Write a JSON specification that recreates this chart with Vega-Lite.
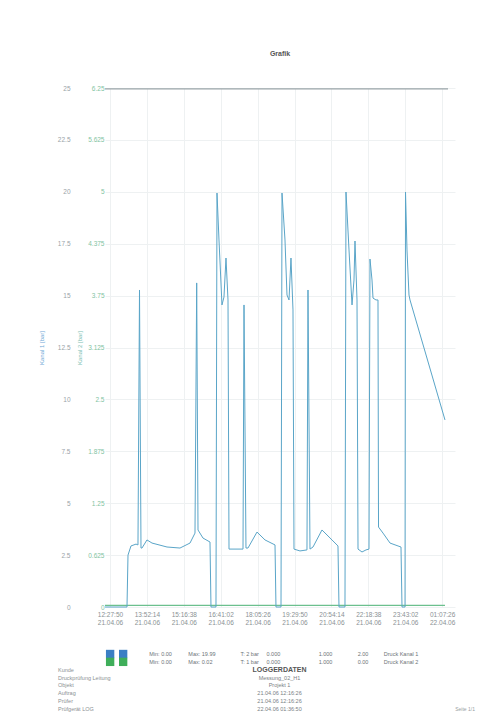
{
  "$schema": "https://vega.github.io/schema/vega-lite/v6.json",
  "width": 350,
  "height": 519,
  "autosize": {"type": "none"},
  "padding": {"left": 105, "top": 88, "right": 26, "bottom": 108},
  "background": "white",
  "config": {"font": "Liberation Sans", "view": {"stroke": null}},
  "title": {"text": "Grafik", "fontSize": 7, "fontWeight": "bold", "color": "#555555", "offset": 28},
  "datasets": {
    "kanal1": [
      {"zeit_min": -11.4, "druck_bar": 0}, {"zeit_min": 38.9, "druck_bar": 0}, {"zeit_min": 41.2, "druck_bar": 2.5},
      {"zeit_min": 48.0, "druck_bar": 2.94}, {"zeit_min": 59.5, "druck_bar": 3.03}, {"zeit_min": 64.0, "druck_bar": 2.99},
      {"zeit_min": 67.5, "druck_bar": 15.27}, {"zeit_min": 70.9, "druck_bar": 2.84}, {"zeit_min": 73.2, "druck_bar": 2.84},
      {"zeit_min": 84.6, "druck_bar": 3.23}, {"zeit_min": 96.1, "druck_bar": 3.08}, {"zeit_min": 130.4, "druck_bar": 2.89},
      {"zeit_min": 160.1, "druck_bar": 2.84}, {"zeit_min": 183.0, "druck_bar": 3.08}, {"zeit_min": 194.4, "druck_bar": 3.56},
      {"zeit_min": 198.3, "druck_bar": 15.61}, {"zeit_min": 201.3, "druck_bar": 3.71}, {"zeit_min": 212.7, "druck_bar": 3.32},
      {"zeit_min": 228.7, "druck_bar": 3.13}, {"zeit_min": 231.0, "druck_bar": 0}, {"zeit_min": 242.4, "druck_bar": 0},
      {"zeit_min": 244.7, "druck_bar": 19.94}, {"zeit_min": 249.3, "druck_bar": 17.68}, {"zeit_min": 256.1, "druck_bar": 14.55},
      {"zeit_min": 260.7, "druck_bar": 14.93}, {"zeit_min": 265.3, "druck_bar": 16.81}, {"zeit_min": 269.9, "druck_bar": 14.79},
      {"zeit_min": 272.2, "druck_bar": 2.79}, {"zeit_min": 285.9, "druck_bar": 2.79}, {"zeit_min": 304.2, "druck_bar": 2.79},
      {"zeit_min": 306.5, "druck_bar": 14.55}, {"zeit_min": 311.0, "druck_bar": 2.84}, {"zeit_min": 315.6, "druck_bar": 2.84},
      {"zeit_min": 336.2, "druck_bar": 3.61}, {"zeit_min": 354.5, "druck_bar": 3.23}, {"zeit_min": 377.4, "druck_bar": 2.99},
      {"zeit_min": 379.6, "druck_bar": 0}, {"zeit_min": 391.1, "druck_bar": 0}, {"zeit_min": 393.4, "druck_bar": 19.94},
      {"zeit_min": 400.2, "druck_bar": 17.68}, {"zeit_min": 404.8, "druck_bar": 15.03}, {"zeit_min": 409.4, "druck_bar": 14.79},
      {"zeit_min": 413.9, "druck_bar": 16.81}, {"zeit_min": 418.5, "druck_bar": 14.31}, {"zeit_min": 420.8, "druck_bar": 2.79},
      {"zeit_min": 434.5, "druck_bar": 2.7}, {"zeit_min": 450.5, "druck_bar": 2.75}, {"zeit_min": 452.8, "druck_bar": 15.27},
      {"zeit_min": 457.4, "druck_bar": 2.79}, {"zeit_min": 464.3, "druck_bar": 2.89}, {"zeit_min": 484.8, "druck_bar": 3.71},
      {"zeit_min": 507.7, "druck_bar": 3.23}, {"zeit_min": 521.4, "druck_bar": 2.94}, {"zeit_min": 523.7, "druck_bar": 0},
      {"zeit_min": 537.4, "druck_bar": 0}, {"zeit_min": 539.7, "druck_bar": 19.99}, {"zeit_min": 546.6, "druck_bar": 17.2},
      {"zeit_min": 553.5, "druck_bar": 14.55}, {"zeit_min": 558.0, "druck_bar": 15.75}, {"zeit_min": 560.3, "druck_bar": 17.63},
      {"zeit_min": 564.9, "druck_bar": 14.79}, {"zeit_min": 567.2, "druck_bar": 2.79}, {"zeit_min": 576.3, "druck_bar": 2.65},
      {"zeit_min": 585.5, "druck_bar": 2.75}, {"zeit_min": 592.3, "druck_bar": 2.79}, {"zeit_min": 594.6, "druck_bar": 16.76},
      {"zeit_min": 599.2, "druck_bar": 15.75}, {"zeit_min": 601.5, "druck_bar": 14.88}, {"zeit_min": 608.3, "druck_bar": 14.79},
      {"zeit_min": 612.9, "druck_bar": 14.79}, {"zeit_min": 614.1, "druck_bar": 3.85}, {"zeit_min": 624.4, "druck_bar": 3.56},
      {"zeit_min": 640.4, "druck_bar": 3.08}, {"zeit_min": 658.7, "druck_bar": 2.94}, {"zeit_min": 665.5, "druck_bar": 2.89},
      {"zeit_min": 667.8, "druck_bar": 0}, {"zeit_min": 674.7, "druck_bar": 0}, {"zeit_min": 675.8, "druck_bar": 19.99},
      {"zeit_min": 679.2, "druck_bar": 17.2}, {"zeit_min": 683.8, "druck_bar": 15.03}, {"zeit_min": 686.1, "druck_bar": 14.79},
      {"zeit_min": 766.1, "druck_bar": 9.01}
    ],
    "kanal2": [
      {"zeit_min": -11.4, "wert": 0.02, "reihe": "Kanal 2"},
      {"zeit_min": 766.1, "wert": 0.02, "reihe": "Kanal 2"},
      {"zeit_min": -11.4, "wert": 6.24, "reihe": "Referenz"},
      {"zeit_min": 773.0, "wert": 6.24, "reihe": "Referenz"}
    ],
    "fusssymbole": [
      {"spalte": "k4", "zeile": "L1", "reihe": "Kanal 1"},
      {"spalte": "k5", "zeile": "L1", "reihe": "Kanal 1"},
      {"spalte": "k4", "zeile": "L2", "reihe": "Kanal 2"},
      {"spalte": "k5", "zeile": "L2", "reihe": "Kanal 2"}
    ],
    "fusszeile": [
      {"spalte": "k7", "zeile": "L1", "text": "Min: 0.00", "art": "legende"},
      {"spalte": "k10", "zeile": "L1", "text": "Max: 19.99", "art": "legende"},
      {"spalte": "k7", "zeile": "L2", "text": "Min: 0.00", "art": "legende"},
      {"spalte": "k10", "zeile": "L2", "text": "Max: 0.02", "art": "legende"},
      {"spalte": "k14", "zeile": "L1", "text": "T: 2 bar", "art": "legende"},
      {"spalte": "k16", "zeile": "L1", "text": "0.000", "art": "legende"},
      {"spalte": "k14", "zeile": "L2", "text": "T: 1 bar", "art": "legende"},
      {"spalte": "k16", "zeile": "L2", "text": "0.000", "art": "legende"},
      {"spalte": "k20", "zeile": "L1", "text": "1.000", "art": "legende"},
      {"spalte": "k20", "zeile": "L2", "text": "1.000", "art": "legende"},
      {"spalte": "k23", "zeile": "L1", "text": "2.00", "art": "legende"},
      {"spalte": "k25", "zeile": "L1", "text": "Druck Kanal 1", "art": "legende"},
      {"spalte": "k23", "zeile": "L2", "text": "0.00", "art": "legende"},
      {"spalte": "k25", "zeile": "L2", "text": "Druck Kanal 2", "art": "legende"},
      {"spalte": "k0", "zeile": "z1", "text": "Kunde", "art": "links"},
      {"spalte": "k0", "zeile": "z2", "text": "Druckprüfung Leitung", "art": "links"},
      {"spalte": "k0", "zeile": "z3", "text": "Objekt", "art": "links"},
      {"spalte": "k0", "zeile": "z4", "text": "Auftrag", "art": "links"},
      {"spalte": "k0", "zeile": "z5", "text": "Prüfer", "art": "links"},
      {"spalte": "k0", "zeile": "z6", "text": "Prüfgerät LOG", "art": "links"},
      {"spalte": "k17", "zeile": "z1", "text": "LOGGERDATEN", "art": "kopf"},
      {"spalte": "k17", "zeile": "z2", "text": "Messung_02_H1", "art": "mitte"},
      {"spalte": "k17", "zeile": "z3", "text": "Projekt 1", "art": "mitte"},
      {"spalte": "k17", "zeile": "z4", "text": "21.04.06 12:16:26", "art": "mitte"},
      {"spalte": "k17", "zeile": "z5", "text": "21.04.06 12:16:26", "art": "mitte"},
      {"spalte": "k17", "zeile": "z6", "text": "22.04.06 01:36:50", "art": "mitte"},
      {"spalte": "k32", "zeile": "z6", "text": "Seite 1/1", "art": "rechts"}
    ]
  },
  "layer": [
    {
      "data": {"name": "kanal2"},
      "mark": {"type": "line", "strokeWidth": 1.1},
      "encoding": {
        "x": {"field": "zeit_min", "type": "quantitative", "scale": {"domain": [-11.4, 789], "nice": false, "zero": false}, "axis": null},
        "y": {
          "field": "wert", "type": "quantitative",
          "scale": {"domain": [0, 6.25], "nice": false},
          "axis": {
            "orient": "left", "offset": 0,
            "values": [0, 0.625, 1.25, 1.875, 2.5, 3.125, 3.75, 4.375, 5, 5.625, 6.25],
            "labelExpr": "'' + datum.value", "labelFontSize": 6.5, "labelColor": "#7fc3a2",
            "ticks": false, "domain": false, "grid": true, "gridColor": "#eef1f2",
            "labelPadding": 1, "title": "Kanal 2 [bar]", "titleColor": "#7cc0b4",
            "titleFontSize": 6, "titleFontWeight": "normal", "titlePadding": 5
          }
        },
        "color": {"field": "reihe", "type": "nominal", "scale": {"domain": ["Kanal 2", "Referenz"], "range": ["#6cc08e", "#9aa4a8"]}, "legend": null}
      }
    },
    {
      "data": {"name": "kanal1"},
      "mark": {"type": "line", "color": "#5aa5c8", "strokeWidth": 1},
      "encoding": {
        "x": {
          "field": "zeit_min", "type": "quantitative",
          "scale": {"domain": [-11.4, 789], "nice": false, "zero": false},
          "axis": {
            "values": [0, 84.4, 168.8, 253.2, 337.6, 422, 506.4, 590.8, 675.2, 759.6],
            "labelExpr": "[timeFormat(datetime(2006, 3, 21, 12, 27, 50 + round(datum.value * 60)), '%H:%M:%S'), timeFormat(datetime(2006, 3, 21, 12, 27, 50 + round(datum.value * 60)), '%d.%m.%y')]",
            "title": null, "labelFontSize": 6.5, "labelColor": "#8a9194",
            "ticks": false, "domain": false, "grid": true, "gridColor": "#eef1f2",
            "labelPadding": 4, "labelLineHeight": 8
          }
        },
        "y": {
          "field": "druck_bar", "type": "quantitative",
          "scale": {"domain": [0, 25], "nice": false},
          "axis": {
            "orient": "left", "offset": 33,
            "values": [0, 2.5, 5, 7.5, 10, 12.5, 15, 17.5, 20, 22.5, 25],
            "labelExpr": "'' + datum.value", "labelFontSize": 6.5, "labelColor": "#9aa3a8",
            "ticks": false, "domain": false, "grid": false,
            "labelPadding": 2, "title": "Kanal 1 [bar]", "titleColor": "#6fa9d6",
            "titleFontSize": 6, "titleFontWeight": "normal", "titlePadding": 13
          }
        }
      }
    },
    {
      "layer": [
        {
          "data": {"name": "fusssymbole"},
          "mark": {"type": "point", "shape": "square", "filled": true, "size": 70, "opacity": 1},
          "encoding": {
            "x": {"field": "spalte", "type": "ordinal", "scale": {"type": "point", "domain": ["k0","k1","k2","k3","k4","k5","k6","k7","k8","k9","k10","k11","k12","k13","k14","k15","k16","k17","k18","k19","k20","k21","k22","k23","k24","k25","k26","k27","k28","k29","k30","k31","k32"], "range": [-47, 370], "padding": 0}, "axis": null},
            "y": {"field": "zeile", "type": "ordinal", "scale": {"type": "point", "domain": ["L1","L2","z1","z2","z3","z4","z5","z6"], "range": [566, 621], "padding": 0}, "axis": null},
            "color": {"field": "reihe", "type": "nominal", "scale": {"domain": ["Kanal 1", "Kanal 2"], "range": ["#3b7fc4", "#3fae5a"]}, "legend": null}
          }
        },
        {
          "data": {"name": "fusszeile"},
          "transform": [{"filter": "datum.art == 'legende'"}],
          "mark": {"type": "text", "align": "left", "baseline": "middle", "fontSize": 5.5, "color": "#6d7377"},
          "encoding": {
            "x": {"field": "spalte", "type": "ordinal", "scale": {"type": "point", "domain": ["k0","k1","k2","k3","k4","k5","k6","k7","k8","k9","k10","k11","k12","k13","k14","k15","k16","k17","k18","k19","k20","k21","k22","k23","k24","k25","k26","k27","k28","k29","k30","k31","k32"], "range": [-47, 370], "padding": 0}, "axis": null},
            "y": {"field": "zeile", "type": "ordinal", "scale": {"type": "point", "domain": ["L1","L2","z1","z2","z3","z4","z5","z6"], "range": [566, 621], "padding": 0}, "axis": null},
            "text": {"field": "text"}
          }
        },
        {
          "data": {"name": "fusszeile"},
          "transform": [{"filter": "datum.art == 'links'"}],
          "mark": {"type": "text", "align": "left", "baseline": "middle", "fontSize": 5.5, "color": "#8c9194"},
          "encoding": {
            "x": {"field": "spalte", "type": "ordinal", "scale": {"type": "point", "domain": ["k0","k1","k2","k3","k4","k5","k6","k7","k8","k9","k10","k11","k12","k13","k14","k15","k16","k17","k18","k19","k20","k21","k22","k23","k24","k25","k26","k27","k28","k29","k30","k31","k32"], "range": [-47, 370], "padding": 0}, "axis": null},
            "y": {"field": "zeile", "type": "ordinal", "scale": {"type": "point", "domain": ["L1","L2","z1","z2","z3","z4","z5","z6"], "range": [566, 621], "padding": 0}, "axis": null},
            "text": {"field": "text"}
          }
        },
        {
          "data": {"name": "fusszeile"},
          "transform": [{"filter": "datum.art == 'mitte'"}],
          "mark": {"type": "text", "align": "center", "baseline": "middle", "fontSize": 5.5, "color": "#7a8084"},
          "encoding": {
            "x": {"field": "spalte", "type": "ordinal", "scale": {"type": "point", "domain": ["k0","k1","k2","k3","k4","k5","k6","k7","k8","k9","k10","k11","k12","k13","k14","k15","k16","k17","k18","k19","k20","k21","k22","k23","k24","k25","k26","k27","k28","k29","k30","k31","k32"], "range": [-47, 370], "padding": 0}, "axis": null},
            "y": {"field": "zeile", "type": "ordinal", "scale": {"type": "point", "domain": ["L1","L2","z1","z2","z3","z4","z5","z6"], "range": [566, 621], "padding": 0}, "axis": null},
            "text": {"field": "text"}
          }
        },
        {
          "data": {"name": "fusszeile"},
          "transform": [{"filter": "datum.art == 'kopf'"}],
          "mark": {"type": "text", "align": "center", "baseline": "middle", "fontSize": 7, "fontWeight": "bold", "color": "#555555"},
          "encoding": {
            "x": {"field": "spalte", "type": "ordinal", "scale": {"type": "point", "domain": ["k0","k1","k2","k3","k4","k5","k6","k7","k8","k9","k10","k11","k12","k13","k14","k15","k16","k17","k18","k19","k20","k21","k22","k23","k24","k25","k26","k27","k28","k29","k30","k31","k32"], "range": [-47, 370], "padding": 0}, "axis": null},
            "y": {"field": "zeile", "type": "ordinal", "scale": {"type": "point", "domain": ["L1","L2","z1","z2","z3","z4","z5","z6"], "range": [566, 621], "padding": 0}, "axis": null},
            "text": {"field": "text"}
          }
        },
        {
          "data": {"name": "fusszeile"},
          "transform": [{"filter": "datum.art == 'rechts'"}],
          "mark": {"type": "text", "align": "right", "baseline": "middle", "fontSize": 5, "color": "#9aa0a3"},
          "encoding": {
            "x": {"field": "spalte", "type": "ordinal", "scale": {"type": "point", "domain": ["k0","k1","k2","k3","k4","k5","k6","k7","k8","k9","k10","k11","k12","k13","k14","k15","k16","k17","k18","k19","k20","k21","k22","k23","k24","k25","k26","k27","k28","k29","k30","k31","k32"], "range": [-47, 370], "padding": 0}, "axis": null},
            "y": {"field": "zeile", "type": "ordinal", "scale": {"type": "point", "domain": ["L1","L2","z1","z2","z3","z4","z5","z6"], "range": [566, 621], "padding": 0}, "axis": null},
            "text": {"field": "text"}
          }
        }
      ]
    }
  ],
  "resolve": {"scale": {"x": "independent", "y": "independent", "color": "independent"}}
}
